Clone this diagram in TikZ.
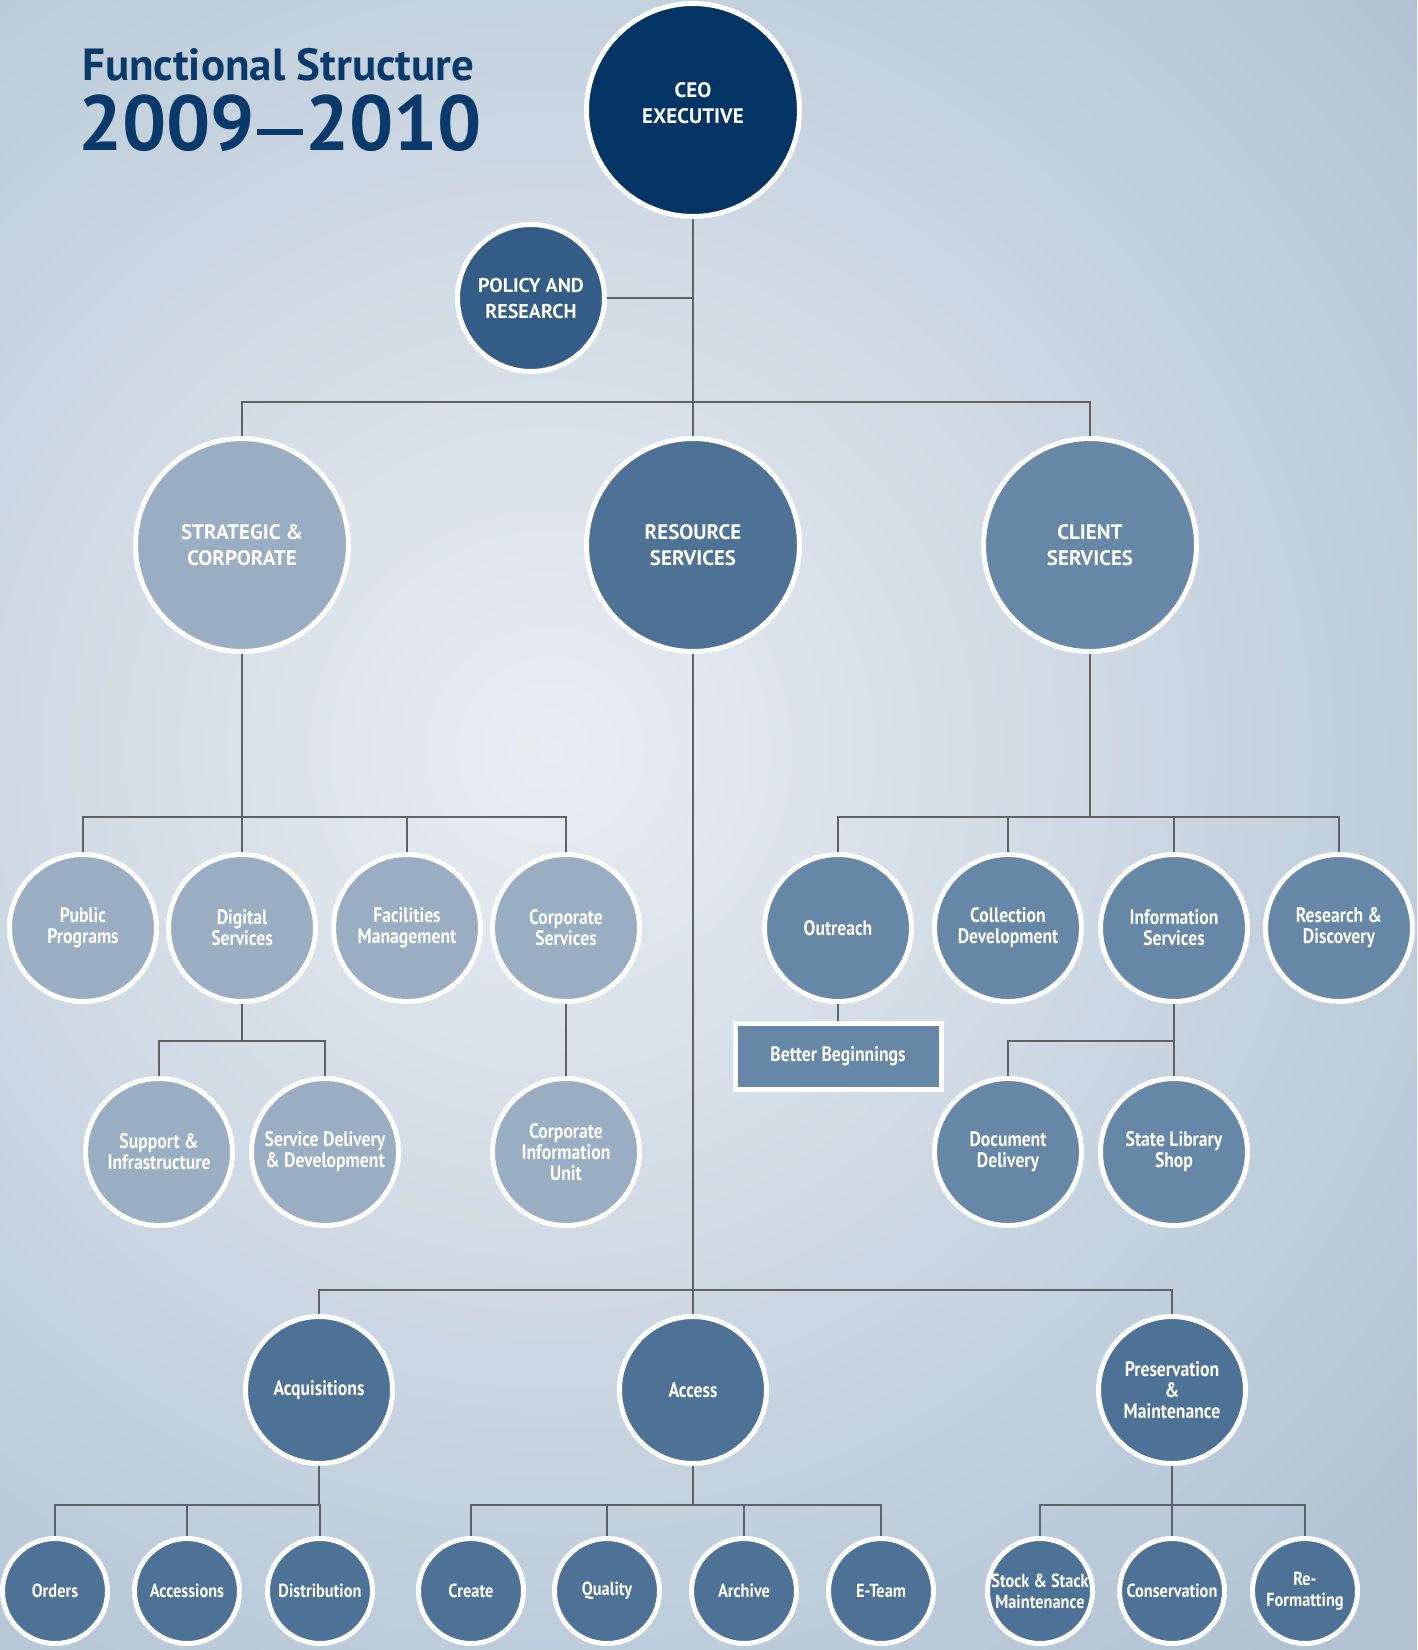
\documentclass[tikz,border=0pt]{standalone}
\usepackage{fontspec}
\setmainfont{PT Sans}
\newfontfamily\capfont{PT Sans}
\newfontfamily\lblfont[FakeStretch=0.84]{PT Sans}
\newfontfamily\leaffont[FakeStretch=0.86]{PT Sans}
\usetikzlibrary{calc}

\definecolor{ceoblue}{HTML}{033463}
\definecolor{policyblue}{HTML}{335D86}
\definecolor{resblue}{HTML}{4D7296}
\definecolor{clientblue}{HTML}{6687A6}
\definecolor{stratblue}{HTML}{99AEC2}
\definecolor{linegrey}{HTML}{5E6166}
\definecolor{titleblue}{HTML}{0A3A6B}
\definecolor{bgin}{HTML}{E8EDF2}
\definecolor{bgout}{HTML}{B1C3D3}

\tikzset{
	unit/.style={circle, draw=white, line width=5pt, text=white, align=center, inner sep=0pt},
	topunit/.style={unit, minimum size=213pt, font=\capfont\bfseries\fontsize{21}{26}\selectfont},
	midunit/.style={unit, minimum size=147pt, font=\lblfont\bfseries\fontsize{21}{21}\selectfont},
	leafunit/.style={unit, minimum size=105pt, font=\leaffont\bfseries\fontsize{19}{21}\selectfont},
	link/.style={draw=linegrey, line width=2.8pt}
}

\begin{document}
\begin{tikzpicture}[x=1pt, y=-1pt]
		% Background
		\useasboundingbox (0,0) rectangle (1417,1650);
		\fill[bgout] (0,0) rectangle (1417,1650);
		\begin{scope}
			\clip (0,0) rectangle (1417,1650);
			\shade[inner color=bgin, outer color=bgout] (550,750) circle (1150);
		\end{scope}

		% Title
		\node[anchor=base west, inner sep=0pt, text=titleblue, font=\capfont\bfseries\fontsize{45}{45}\selectfont] (title) at (82,80) {Functional Structure};
		\node[anchor=base west, inner sep=0pt, text=titleblue, font=\capfont\bfseries\fontsize{78}{78}\selectfont] (years) at (78,150)
			{2009\kern2pt\rule[15pt]{46pt}{6pt}\kern2pt2010};

		% Top level
		\node[topunit, fill=ceoblue, text depth=15pt] (ceo) at (693,110) {CEO\\EXECUTIVE};
		\node[midunit, fill=policyblue, font=\capfont\bfseries\fontsize{20}{26}\selectfont] (policy) at (531,298) {POLICY AND\\RESEARCH};
		\node[topunit, fill=stratblue] (strat) at (242,545) {STRATEGIC \&\\CORPORATE};
		\node[topunit, fill=resblue] (res) at (693,545) {RESOURCE\\SERVICES};
		\node[topunit, fill=clientblue] (client) at (1090,545) {CLIENT\\SERVICES};

		% Strategic & corporate
		\node[midunit, fill=stratblue] (pub) at (83,928) {Public\\Programs};
		\node[midunit, fill=stratblue] (dig) at (242,928) {Digital\\Services};
		\node[midunit, fill=stratblue] (fac) at (407,928) {Facilities\\Management};
		\node[midunit, fill=stratblue] (corp) at (566,928) {Corporate\\Services};
		\node[midunit, fill=stratblue] (sup) at (159,1152) {Support \&\\Infrastructure};
		\node[midunit, fill=stratblue] (sdd) at (325,1152) {Service Delivery\\\& Development};
		\node[midunit, fill=stratblue] (ciu) at (566,1152) {Corporate\\Information\\Unit};

		% Client services
		\node[midunit, fill=clientblue] (out) at (838,928) {Outreach};
		\node[midunit, fill=clientblue] (coll) at (1008,928) {Collection\\Development};
		\node[midunit, fill=clientblue] (info) at (1174,928) {Information\\Services};
		\node[midunit, fill=clientblue] (rnd) at (1339,928) {Research \&\\Discovery};
		\node[rectangle, draw=white, line width=5pt, fill=clientblue, text=white, minimum width=206pt, minimum height=66pt,
			font=\lblfont\bfseries\fontsize{21}{21}\selectfont] (bb) at (838,1056) {Better Beginnings};
		\node[midunit, fill=clientblue] (doc) at (1008,1152) {Document\\Delivery};
		\node[midunit, fill=clientblue] (shop) at (1174,1152) {State Library\\Shop};

		% Resource services
		\node[midunit, fill=resblue] (acq) at (319,1390) {Acquisitions};
		\node[midunit, fill=resblue] (acc) at (693,1390) {Access};
		\node[midunit, fill=resblue] (pres) at (1172,1390) {Preservation\\\&\\Maintenance};
		\node[leafunit, fill=resblue] (ord) at (55,1591) {Orders};
		\node[leafunit, fill=resblue] (accs) at (187,1591) {Accessions};
		\node[leafunit, fill=resblue] (dist) at (320,1591) {Distribution};
		\node[leafunit, fill=resblue] (create) at (471,1591) {Create};
		\node[leafunit, fill=resblue] (qual) at (607,1591) {Quality};
		\node[leafunit, fill=resblue] (arch) at (744,1591) {Archive};
		\node[leafunit, fill=resblue] (eteam) at (881,1591) {E-Team};
		\node[leafunit, fill=resblue] (stock) at (1040,1591) {Stock \& Stack\\Maintenance};
		\node[leafunit, fill=resblue] (cons) at (1172,1591) {Conservation};
		\node[leafunit, fill=resblue] (refmt) at (1305,1591) {Re-\\Formatting};

		% Bars
		\coordinate (topbar) at (693,402);
		\coordinate (sbar) at (242,817);
		\coordinate (dbar) at (242,1041);
		\coordinate (cbar) at (1090,817);
		\coordinate (ibar) at (1174,1041);
		\coordinate (rbar) at (693,1290);
		\coordinate (abar) at (319,1505);
		\coordinate (xbar) at (693,1505);
		\coordinate (pbar) at (1172,1505);

		% Connectors
		\draw[link] (ceo) -- (res);
		\draw[link] (policy) -- (policy -| ceo);
		\draw[link] (strat) |- (topbar) -| (client);
		\foreach \k in {pub,dig,fac,corp}
			\draw[link] (strat) |- (sbar) -| (\k);
		\foreach \k in {sup,sdd}
			\draw[link] (dig) |- (dbar) -| (\k);
		\draw[link] (corp) -- (ciu);
		\foreach \k in {out,coll,info,rnd}
			\draw[link] (client) |- (cbar) -| (\k);
		\draw[link] (out) -- (bb);
		\foreach \k in {doc,shop}
			\draw[link] (info) |- (ibar) -| (\k);
		\foreach \k in {acq,acc,pres}
			\draw[link] (res) |- (rbar) -| (\k);
		\foreach \k in {ord,accs,dist}
			\draw[link] (acq) |- (abar) -| (\k);
		\foreach \k in {create,qual,arch,eteam}
			\draw[link] (acc) |- (xbar) -| (\k);
		\foreach \k in {stock,cons,refmt}
			\draw[link] (pres) |- (pbar) -| (\k);
	\end{tikzpicture}
\end{document}
